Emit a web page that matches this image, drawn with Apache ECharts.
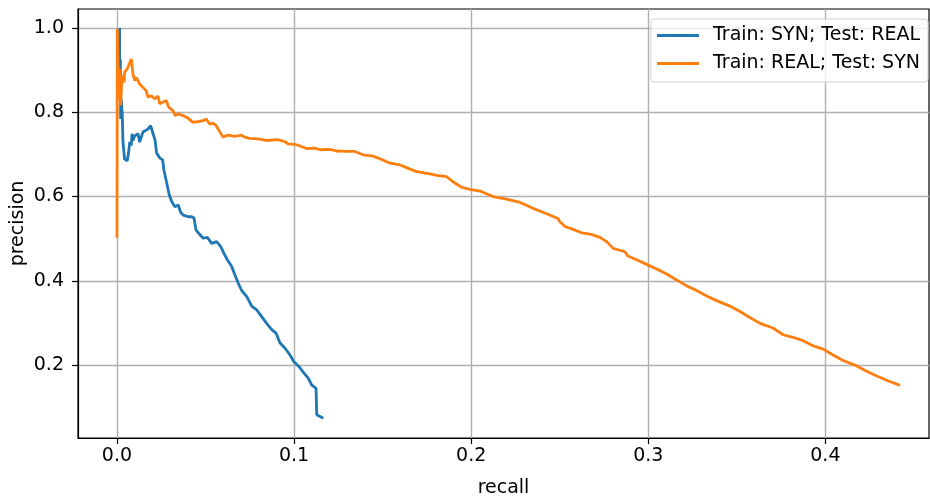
<!DOCTYPE html>
<html>
<head>
<meta charset="utf-8">
<script src="https://cdn.jsdelivr.net/npm/echarts@6/dist/echarts.min.js"></script>
<style>
  html, body { margin: 0; padding: 0; background: #fff; }
  #chart { width: 930px; height: 498px; }
</style>
</head>
<body>
<div id="chart"></div>
<script>
// precision / recall pairs
var synRecall = [0.0015, 0.0015, 0.0019, 0.0021, 0.0024, 0.0030, 0.0034, 0.0043, 0.0058, 0.0066,
    0.0072, 0.0081, 0.0085, 0.0090, 0.0100, 0.0109, 0.0119, 0.0128, 0.0137, 0.0147,
    0.0156, 0.0175, 0.0190, 0.0196, 0.0215, 0.0224, 0.0243, 0.0258, 0.0265, 0.0281,
    0.0295, 0.0309, 0.0327, 0.0346, 0.0360, 0.0374, 0.0403, 0.0422, 0.0435, 0.0446,
    0.0465, 0.0487, 0.0510, 0.0535, 0.0563, 0.0586, 0.0604, 0.0623, 0.0648, 0.0666,
    0.0685, 0.0704, 0.0732, 0.0761, 0.0789, 0.0817, 0.0845, 0.0874, 0.0898, 0.0920,
    0.0949, 0.0977, 0.0999, 0.1029, 0.1056, 0.1080, 0.1099, 0.1124, 0.1128, 0.1165];
var synPrecision = [1.000, 0.919, 0.926, 0.784, 0.832, 0.792, 0.729, 0.689, 0.685, 0.705,
    0.729, 0.721, 0.749, 0.733, 0.744, 0.741, 0.749, 0.729, 0.741, 0.753,
    0.756, 0.760, 0.768, 0.766, 0.734, 0.703, 0.691, 0.687, 0.663, 0.632,
    0.604, 0.588, 0.576, 0.580, 0.562, 0.556, 0.552, 0.552, 0.549, 0.521,
    0.511, 0.501, 0.503, 0.489, 0.493, 0.481, 0.465, 0.450, 0.434, 0.414,
    0.394, 0.377, 0.363, 0.340, 0.331, 0.315, 0.299, 0.284, 0.276, 0.253,
    0.240, 0.224, 0.208, 0.196, 0.181, 0.169, 0.153, 0.145, 0.082, 0.074];

var realRecall = [0.0000, 0.0002, 0.0010, 0.0015, 0.0021, 0.0028, 0.0040, 0.0043, 0.0058, 0.0066,
    0.0081, 0.0090, 0.0100, 0.0109, 0.0128, 0.0147, 0.0165, 0.0175, 0.0194, 0.0213,
    0.0232, 0.0241, 0.0260, 0.0278, 0.0292, 0.0316, 0.0329, 0.0344, 0.0373, 0.0401,
    0.0429, 0.0457, 0.0486, 0.0504, 0.0523, 0.0542, 0.0561, 0.0580, 0.0599, 0.0627,
    0.0665, 0.0702, 0.0721, 0.0749, 0.0796, 0.0843, 0.0909, 0.0920, 0.0949, 0.0966,
    0.1005, 0.1033, 0.1071, 0.1118, 0.1146, 0.1203, 0.1240, 0.1297, 0.1344, 0.1389,
    0.1446, 0.1495, 0.1541, 0.1598, 0.1655, 0.1692, 0.1767, 0.1805, 0.1862, 0.1897,
    0.1946, 0.1993, 0.2050, 0.2123, 0.2200, 0.2276, 0.2349, 0.2426, 0.2490, 0.2501,
    0.2530, 0.2575, 0.2624, 0.2671, 0.2727, 0.2765, 0.2802, 0.2868, 0.2885, 0.2934,
    0.2991, 0.3047, 0.3104, 0.3160, 0.3217, 0.3273, 0.3330, 0.3386, 0.3461, 0.3518,
    0.3574, 0.3631, 0.3704, 0.3761, 0.3817, 0.3874, 0.3930, 0.3987, 0.4043, 0.4100,
    0.4167, 0.4224, 0.4290, 0.4353, 0.4421];
var realPrecision = [0.502, 0.998, 0.832, 0.903, 0.816, 0.887, 0.871, 0.895, 0.903, 0.911,
    0.926, 0.891, 0.875, 0.883, 0.867, 0.859, 0.851, 0.836, 0.839, 0.832,
    0.838, 0.820, 0.824, 0.828, 0.812, 0.804, 0.792, 0.796, 0.792, 0.786,
    0.776, 0.778, 0.780, 0.784, 0.772, 0.774, 0.768, 0.754, 0.741, 0.746,
    0.743, 0.746, 0.741, 0.738, 0.737, 0.733, 0.735, 0.737, 0.730, 0.725,
    0.724, 0.720, 0.714, 0.715, 0.711, 0.712, 0.708, 0.707, 0.707, 0.699,
    0.696, 0.688, 0.679, 0.675, 0.665, 0.659, 0.654, 0.650, 0.647, 0.635,
    0.622, 0.617, 0.613, 0.600, 0.594, 0.586, 0.572, 0.559, 0.548, 0.540,
    0.529, 0.522, 0.514, 0.511, 0.503, 0.493, 0.477, 0.469, 0.459, 0.450,
    0.439, 0.428, 0.416, 0.402, 0.388, 0.377, 0.364, 0.353, 0.340, 0.327,
    0.313, 0.299, 0.288, 0.272, 0.266, 0.258, 0.246, 0.238, 0.224, 0.211,
    0.200, 0.187, 0.174, 0.163, 0.152];

var xTicks = [0, 0.1, 0.2, 0.3, 0.4];
var yTicks = [0.2, 0.4, 0.6, 0.8, 1.0];
var seriesNames = ['Train: SYN; Test: REAL', 'Train: REAL; Test: SYN'];

function pairs(xs, ys) {
    var out = [];
    for (var i = 0; i < xs.length; i++) out.push([xs[i], ys[i]]);
    return out;
}

var font = 'DejaVu Sans';
var fs = 19;
var myChart = echarts.init(document.getElementById('chart'), null, {renderer: 'canvas'});

var option = {
    animation: false,
    backgroundColor: '#fff',
    textStyle: {fontFamily: font},
    grid: {
        left: 78, right: 1, top: 9, bottom: 60,
        outerBoundsMode: 'none', containLabel: false,
        show: true, borderColor: '#000', borderWidth: 1.2, backgroundColor: 'transparent'
    },
    legend: {
        orient: 'vertical',
        right: 2, top: 19,
        padding: [7, 8, 9, 6],
        icon: 'rect',
        itemWidth: 42, itemHeight: 3, itemGap: 9,
        backgroundColor: 'rgba(255,255,255,0.8)',
        borderColor: '#d0d0d0', borderWidth: 1, borderRadius: 3,
        textStyle: {fontFamily: font, fontSize: fs, color: '#000', padding: [0, 0, 0, 9]},
        data: seriesNames
    },
    xAxis: {
        type: 'value',
        min: -0.022, max: 0.4585,
        name: 'recall', nameLocation: 'middle', nameGap: 41, nameMoveOverlap: false,
        nameTextStyle: {fontFamily: font, fontSize: fs, color: '#000'},
        axisLine: {onZero: false, lineStyle: {color: '#000', width: 1.2}},
        axisTick: {show: true, length: 6, inside: false, customValues: xTicks, lineStyle: {color: '#000', width: 1.2}},
        axisLabel: {
            customValues: xTicks, margin: 9, color: '#000', fontSize: fs, fontFamily: font,
            formatter: function (v) { return v.toFixed(1); }
        },
        splitLine: {show: true, lineStyle: {color: '#b0b0b0', width: 1.4}}
    },
    yAxis: {
        type: 'value',
        min: 0.027, max: 1.045,
        name: 'precision', nameLocation: 'middle', nameGap: 50, nameRotate: 90, nameMoveOverlap: false,
        nameTextStyle: {fontFamily: font, fontSize: fs, color: '#000'},
        axisLine: {show: true, onZero: false, lineStyle: {color: '#000', width: 1.2}},
        axisTick: {show: true, length: 6, inside: false, customValues: yTicks, lineStyle: {color: '#000', width: 1.2}},
        axisLabel: {
            customValues: yTicks, margin: 14, color: '#000', fontSize: fs, fontFamily: font,
            formatter: function (v) { return v.toFixed(1); }
        },
        splitLine: {show: true, lineStyle: {color: '#b0b0b0', width: 1.4}}
    },
    series: [
        {
            name: seriesNames[0], type: 'line', symbol: 'none', z: 3,
            lineStyle: {color: '#1f77b4', width: 2.8},
            itemStyle: {color: '#1f77b4'},
            data: pairs(synRecall, synPrecision)
        },
        {
            name: seriesNames[1], type: 'line', symbol: 'none', z: 4,
            lineStyle: {color: '#ff7f0e', width: 2.8},
            itemStyle: {color: '#ff7f0e'},
            data: pairs(realRecall, realPrecision)
        }
    ]
};
myChart.setOption(option);
</script>
</body>
</html>
